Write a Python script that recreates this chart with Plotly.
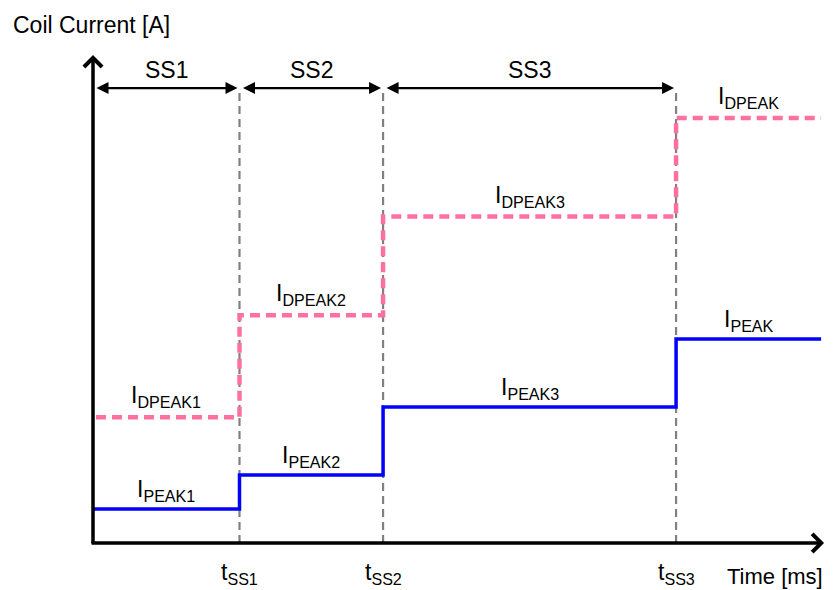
import plotly.graph_objects as go

# ---- data ----
t_ss = [1.0, 1.98, 3.98]          # soft-start boundaries tSS1..tSS3
t_end = 4.97
peak = [1.0, 2.0, 4.0, 6.0]       # IPEAK1, IPEAK2, IPEAK3, IPEAK
dpeak = [3.7, 6.7, 9.6, 12.5]     # IDPEAK1, IDPEAK2, IDPEAK3, IDPEAK
peak_labels = ["PEAK1", "PEAK2", "PEAK3", "PEAK"]
dpeak_labels = ["DPEAK1", "DPEAK2", "DPEAK3", "DPEAK"]
ss_labels = ["SS1", "SS2", "SS3"]
tick_labels = ["SS1", "SS2", "SS3"]

FONT = "Liberation Sans, Arial, sans-serif"
FS = 23
PINK = "#FF6FA0"
BLUE = "#0000FF"
GRAY = "#808080"

y_top = 14.35     # axis arrow tip level
ss_level = 13.38  # level of the SS arrows / top of guide lines

W, H = 833, 590

fig = go.Figure()

bounds = [0.0] + t_ss + [t_end]

# Blue IPEAK staircase
fig.add_trace(go.Scatter(
    x=bounds, y=peak + [peak[-1]], mode="lines", line_shape="hv",
    line=dict(color=BLUE, width=3.5), hoverinfo="skip", showlegend=False))

# Pink IDPEAK staircase
fig.add_trace(go.Scatter(
    x=[0.02] + t_ss + [t_end], y=dpeak + [dpeak[-1]], mode="lines", line_shape="hv",
    line=dict(color=PINK, width=4.5, dash="10px,6px"), hoverinfo="skip", showlegend=False))

# vertical gray guide lines
for t in t_ss:
    fig.add_shape(type="line", x0=t, x1=t, y0=0, y1=ss_level, layer="below",
                  line=dict(color=GRAY, width=2.2, dash="8px,5px"))

annotations = []

# axes with open arrow heads
annotations.append(dict(x=0, y=y_top, ax=0, ay=-0.06, xref="x", yref="y", axref="x", ayref="y",
                        text="", showarrow=True, arrowhead=4, arrowsize=1, arrowwidth=3.5,
                        arrowcolor="black"))
annotations.append(dict(x=4.99, y=0, ax=-0.02, ay=0, xref="x", yref="y", axref="x", ayref="y",
                        text="", showarrow=True, arrowhead=4, arrowsize=1, arrowwidth=3.5,
                        arrowcolor="black"))

# SS double arrows
for i, lab in enumerate(ss_labels):
    a, b = bounds[i], bounds[i + 1]
    annotations.append(dict(x=b, y=ss_level, ax=a, ay=ss_level, xref="x", yref="y",
                            axref="x", ayref="y", text="", showarrow=True,
                            arrowside="end+start", arrowhead=2, startarrowhead=2,
                            arrowsize=1, startarrowsize=1, arrowwidth=2.4, arrowcolor="black",
                            standoff=2, startstandoff=2))
    annotations.append(dict(x=(a + b) / 2, y=ss_level, xref="x", yref="y", text=lab,
                            showarrow=False, yanchor="bottom", yshift=3,
                            font=dict(family=FONT, size=FS, color="black")))

# IPEAK / IDPEAK labels
for i in range(4):
    a, b = bounds[i], bounds[i + 1]
    annotations.append(dict(x=(a + b) / 2, y=peak[i], xref="x", yref="y",
                            text="I<sub>%s</sub>" % peak_labels[i], showarrow=False,
                            yanchor="bottom", yshift=2,
                            font=dict(family=FONT, size=FS, color="black")))
    annotations.append(dict(x=(a + b) / 2, y=dpeak[i], xref="x", yref="y",
                            text="I<sub>%s</sub>" % dpeak_labels[i], showarrow=False,
                            yanchor="bottom", yshift=4,
                            font=dict(family=FONT, size=FS, color="black")))

# tSS tick labels
for t, lab in zip(t_ss, tick_labels):
    annotations.append(dict(x=t, y=0, xref="x", yref="y", text="t<sub>%s</sub>" % lab,
                            showarrow=False, yanchor="top", yshift=-14,
                            font=dict(family=FONT, size=FS, color="black")))

# axis titles
annotations.append(dict(x=717 / W, y=0, xref="paper", yref="y", text="Time [ms]",
                        showarrow=False, xanchor="left", yanchor="top", yshift=-19,
                        font=dict(family=FONT, size=22, color="black")))
annotations.append(dict(x=3 / W, y=1 - 2 / H, xref="paper", yref="paper",
                        text="Coil Current [A]", showarrow=False, xanchor="left",
                        yanchor="top", font=dict(family=FONT, size=FS, color="black")))

# page has an 8px body margin: shift the ranges so marks land where the reference has them
fig.update_layout(
    width=W, height=H,
    margin=dict(l=0, r=0, t=0, b=0),
    paper_bgcolor="white", plot_bgcolor="white",
    xaxis=dict(range=[-85 / 146.5, (W - 85) / 146.5], visible=False, fixedrange=True),
    yaxis=dict(range=[-(H - 535) / 34, 535 / 34], visible=False, fixedrange=True),
    annotations=annotations,
    showlegend=False,
)

fig.write_html("out.html")
